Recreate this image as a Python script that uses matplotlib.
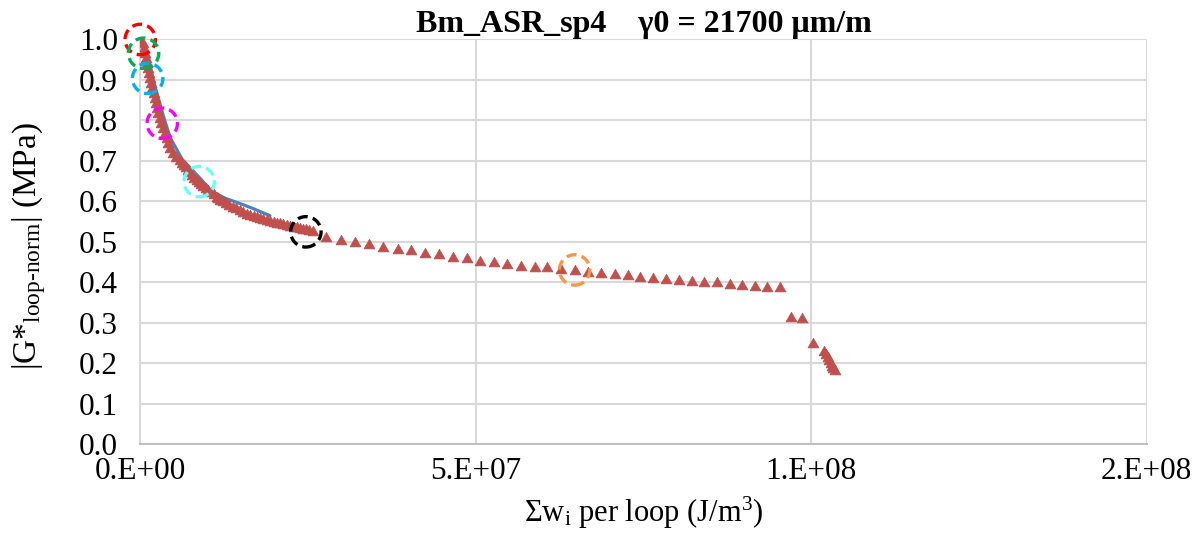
import matplotlib
matplotlib.use("Agg")
import matplotlib.pyplot as plt

plt.rcParams['font.family'] = ['Liberation Serif', 'DejaVu Serif']
plt.rcParams['mathtext.fontset'] = 'custom'
plt.rcParams['mathtext.rm'] = 'Liberation Serif'
plt.rcParams['mathtext.it'] = 'Liberation Serif:italic'
plt.rcParams['mathtext.bf'] = 'Liberation Serif:bold'

# ---- data ----
title = "Bm_ASR_sp4    γ0 = 21700 μm/m"

blue_x = [0.0, 1.20e6, 1.85e6, 2.65e6, 3.50e6, 4.45e6, 6.25e6, 9.10e6,
          1.055e7, 1.265e7, 1.470e7, 1.675e7, 1.932e7]
blue_y = [1.000, 0.956, 0.906, 0.857, 0.808, 0.758, 0.704, 0.654,
          0.626, 0.608, 0.596, 0.583, 0.565]

red_x = [0.0, 4.02e5, 5.51e5, 7.00e5, 8.49e5, 9.98e5, 1.147e6, 1.296e6, 1.445e6,
         1.594e6, 1.817e6, 2.040e6, 2.189e6, 2.338e6, 2.562e6, 2.711e6, 2.934e6,
         3.158e6, 3.381e6, 3.679e6, 3.932e6, 4.200e6, 4.498e6, 4.870e6, 5.317e6,
         5.913e6, 6.211e6, 6.509e6, 6.807e6, 7.105e6, 7.400e6, 7.700e6, 8.050e6,
         8.400e6, 8.720e6, 9.041e6, 9.410e6, 9.786e6, 1.016e7, 1.053e7, 1.096e7,
         1.138e7, 1.163e7, 1.187e7, 1.232e7, 1.276e7, 1.329e7, 1.381e7, 1.433e7,
         1.485e7, 1.537e7, 1.589e7, 1.641e7, 1.693e7, 1.738e7, 1.783e7, 1.835e7,
         1.887e7, 1.939e7, 1.991e7, 2.036e7, 2.081e7, 2.133e7, 2.185e7, 2.237e7,
         2.289e7, 2.334e7, 2.379e7, 2.424e7, 2.468e7, 2.520e7, 2.572e7,
         2.766e7, 2.985e7, 3.198e7, 3.408e7, 3.617e7, 3.834e7, 4.042e7, 4.251e7,
         4.449e7, 4.657e7, 4.866e7, 5.070e7, 5.268e7, 5.472e7, 5.680e7, 5.879e7,
         6.068e7, 6.276e7, 6.474e7, 6.668e7, 6.872e7, 7.070e7, 7.264e7, 7.453e7,
         7.641e7, 7.840e7, 8.028e7, 8.222e7, 8.400e7, 8.594e7, 8.783e7, 8.966e7,
         9.155e7, 9.344e7, 9.528e7,
         9.700e7, 9.866e7, 1.0024e8,
         1.0198e8, 1.0220e8, 1.0243e8, 1.0265e8, 1.0288e8, 1.0310e8, 1.0332e8, 1.0354e8]
red_y = [1.000, 0.991, 0.979, 0.967, 0.954, 0.942, 0.930, 0.917, 0.905,
         0.893, 0.880, 0.868, 0.856, 0.843, 0.831, 0.819, 0.806,
         0.794, 0.781, 0.769, 0.757, 0.744, 0.732, 0.720, 0.710,
         0.702, 0.696, 0.690, 0.684, 0.678, 0.672, 0.665, 0.659,
         0.653, 0.648, 0.643, 0.638, 0.633, 0.628, 0.623, 0.618,
         0.612, 0.608, 0.604, 0.600, 0.596, 0.592, 0.587, 0.583,
         0.578, 0.574, 0.570, 0.567, 0.563, 0.561, 0.559, 0.557,
         0.554, 0.552, 0.549, 0.548, 0.546, 0.544, 0.542, 0.540,
         0.537, 0.536, 0.534, 0.533, 0.531, 0.530, 0.528,
         0.513, 0.505, 0.499, 0.494, 0.488, 0.483, 0.479, 0.474,
         0.470, 0.464, 0.460, 0.454, 0.450, 0.446, 0.441, 0.439,
         0.437, 0.433, 0.431, 0.427, 0.423, 0.420, 0.418, 0.414,
         0.412, 0.409, 0.406, 0.404, 0.401, 0.400, 0.396, 0.395,
         0.391, 0.390, 0.388,
         0.314, 0.312, 0.250,
         0.231, 0.2235, 0.216, 0.2086, 0.2012, 0.194, 0.1877, 0.1827]

circle_x = [0.0, 4.9e5, 1.1e6, 3.28e6, 8.79e6, 2.468e7, 6.474e7]
circle_y = [1.000, 0.966, 0.904, 0.793, 0.649, 0.525, 0.431]
circle_colors = ['#FF0000', '#00B050', '#00B0F0', '#FF00FF', '#66FFFF', '#000000', '#F79646']

x_ticks = [0, 5e7, 1e8, 1.5e8]
x_ticklabels = ["0.E+00", "5.E+07", "1.E+08", "2.E+08"]
y_ticks = [i / 10 for i in range(11)]
y_ticklabels = [f"{v:.1f}" for v in y_ticks]

# ---- figure ----
fig = plt.figure(figsize=(12.04, 5.35), dpi=100)
ax = fig.add_axes([0.1165, 0.1692, 0.9524 - 0.1165, 0.9262 - 0.1692])

ax.plot(blue_x, blue_y, color='#4F81BD', lw=2.3, zorder=2, solid_capstyle='round')
tri = [(-1, -0.8), (1, -0.8), (0, 0.95), (-1, -0.8)]
ax.plot(red_x, red_y, linestyle='none', marker=tri, markersize=7.9,
        color='#C0504D', markeredgecolor='#C0504D', markeredgewidth=0.5, zorder=3)
ax.scatter(circle_x, circle_y, s=480, facecolors='none', edgecolors=circle_colors,
           linewidths=2.4, linestyles=(0, (3, 1.6)), zorder=4, clip_on=False)

ax.set_xlim(0, 1.5e8)
ax.set_ylim(0, 1.0)
ax.set_xticks(x_ticks)
ax.set_xticklabels(x_ticklabels)
ax.set_yticks(y_ticks)
ax.set_yticklabels(y_ticklabels)
ax.tick_params(axis='both', length=0, labelsize=22.5, colors='black')
ax.tick_params(axis='x', pad=9)
ax.tick_params(axis='y', pad=16)

ax.grid(True, color='#D9D9D9', lw=1.5, zorder=0)
ax.set_axisbelow(True)
for s in ['top', 'right']:
    ax.spines[s].set_visible(False)
ax.spines['left'].set_color('#D9D9D9')
ax.spines['left'].set_linewidth(1.5)
ax.spines['bottom'].set_color('#BFBFBF')
ax.spines['bottom'].set_linewidth(1.5)

ax.set_title(title, fontsize=23, fontweight='bold', pad=5)
ax.set_xlabel(r"Σw$_{\mathrm{i}}$ per loop (J/m$^{3}$)", fontsize=22, labelpad=6)
ax.set_ylabel(r"|G*$_{\mathrm{loop‐norm}}$| (MPa)", fontsize=24)
ax.yaxis.set_label_coords(-0.092, 0.49)

fig.savefig("out.png", dpi=100)
